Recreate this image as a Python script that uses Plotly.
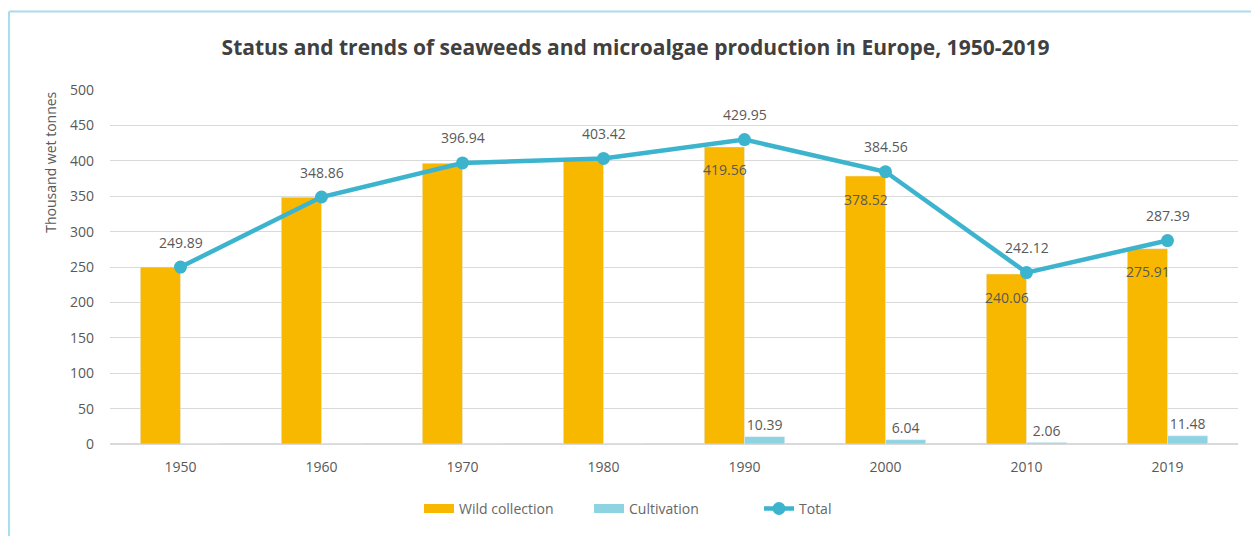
import plotly.graph_objects as go

years = ["1950", "1960", "1970", "1980", "1990", "2000", "2010", "2019"]
total = [249.89, 348.86, 396.94, 403.42, 429.95, 384.56, 242.12, 287.39]
cultivation = [0.0, 0.3, 0.5, 0.4, 10.39, 6.04, 2.06, 11.48]
wild = [249.89, 348.56, 396.44, 403.02, 419.56, 378.52, 240.06, 275.91]
wild_labelled = [False, False, False, False, True, True, True, True]
cult_labelled = [False, False, False, False, True, True, True, True]

WILD = "#F9B800"
CULT = "#8ED3E2"
LINE = "#3DB4CE"
TXT = "#595959"
FONT = "Open Sans"
FS = 14

fig = go.Figure()
fig.add_trace(go.Bar(
    x=years, y=wild, name="Wild collection", marker_color=WILD, showlegend=False,
))
fig.add_trace(go.Bar(
    x=years, y=cultivation, name="Cultivation", marker_color=CULT, showlegend=False,
    text=[f"{v:.2f}" if s else "" for v, s in zip(cultivation, cult_labelled)],
    textposition="outside", cliponaxis=False,
    textfont=dict(size=FS, color=TXT, family=FONT),
))

# wide swatches for the bar series in the legend
for name, col in [("Wild collection", WILD), ("Cultivation", CULT)]:
    fig.add_trace(go.Scatter(
        x=[years[0]], y=[None], name=name, mode="lines",
        line=dict(color=col, width=9),
    ))

fig.add_trace(go.Scatter(
    x=years, y=total, name="Total", mode="lines+markers",
    line=dict(color=LINE, width=4.5), marker=dict(size=13, color=LINE),
    cliponaxis=False,
))

# total labels above the markers
for i, v in enumerate(total):
    fig.add_annotation(x=i, y=v, yshift=25, text=f"{v:.2f}", showarrow=False,
                       font=dict(size=FS, color=TXT, family=FONT))

# value labels just inside the top of the labelled wild-collection bars
for i, (v, s) in enumerate(zip(wild, wild_labelled)):
    if s:
        fig.add_annotation(x=i, y=v, xshift=-20, yshift=-23, text=f"{v:.2f}",
                           showarrow=False,
                           font=dict(size=FS, color=TXT, family=FONT))

# y-axis title, aligned with the top of the plot area
fig.add_annotation(xref="paper", yref="paper", x=-0.053, y=1.0,
                   xanchor="center", yanchor="top", textangle=-90,
                   text="Thousand wet tonnes", showarrow=False,
                   font=dict(size=FS, color=TXT, family=FONT))

# frame lines along the left and top of the chart area
fig.add_shape(type="line", xref="paper", yref="paper",
              x0=-0.0895, x1=-0.0895, y0=-0.26, y1=1.222,
              line=dict(color="#A9DCEC", width=2))
fig.add_shape(type="line", xref="paper", yref="paper",
              x0=-0.0895, x1=1.02, y0=1.222, y1=1.222,
              line=dict(color="#A9DCEC", width=2))

fig.update_layout(
    width=1251, height=536,
    margin=dict(l=110, r=13, t=90, b=91),
    paper_bgcolor="white", plot_bgcolor="white",
    barmode="group", bargap=0.43, bargroupgap=0,
    title=dict(text="<b>Status and trends of seaweeds and microalgae production in Europe, 1950-2019</b>",
               x=0.508, xanchor="center", y=0.912, yanchor="middle",
               xref="container",
               font=dict(size=21, color="#404040", family=FONT)),
    font=dict(family=FONT, color=TXT, size=FS),
    legend=dict(orientation="h", x=0.5, xanchor="center", y=-0.18, yanchor="middle",
                font=dict(size=FS, color="#666666", family=FONT), traceorder="normal",
                entrywidth=125),
    xaxis=dict(type="category", range=[-0.5, len(years) - 0.5], showgrid=False,
               showline=False, ticks="", ticklabelstandoff=13,
               tickfont=dict(size=FS, color=TXT)),
    yaxis=dict(range=[0, 500], dtick=50, showgrid=True, gridcolor="#D9D9D9",
               gridwidth=1, zeroline=True, zerolinecolor="#D9D9D9",
               ticklabelstandoff=15, tickfont=dict(size=FS, color=TXT)),
)

fig.write_html("out.html")
